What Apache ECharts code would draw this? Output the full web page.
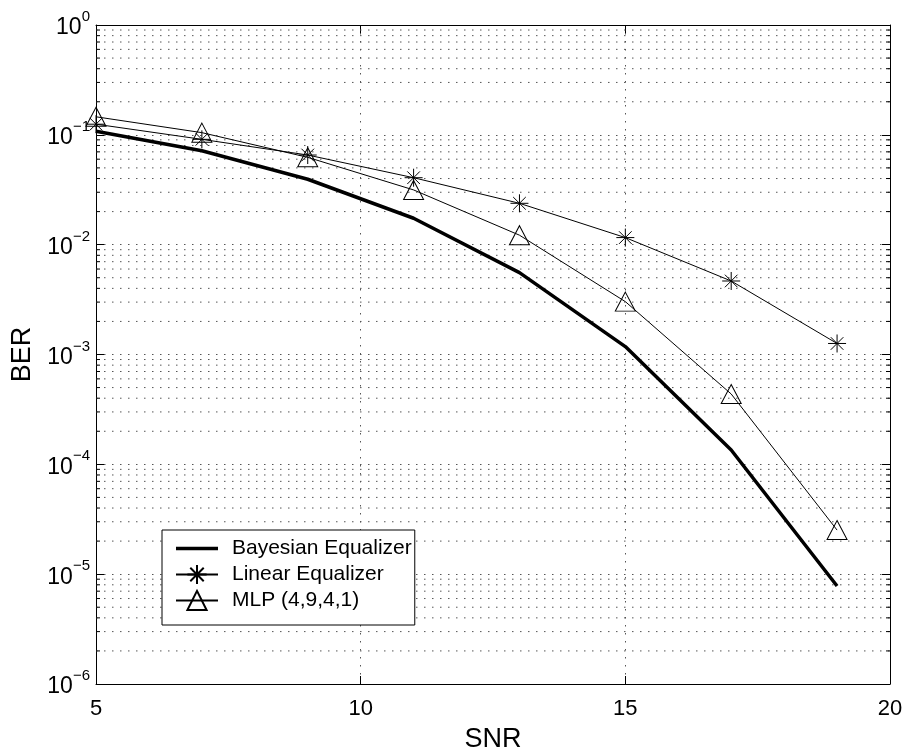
<!DOCTYPE html>
<html>
<head>
<meta charset="utf-8">
<script src="https://cdn.jsdelivr.net/npm/echarts@6/dist/echarts.min.js"></script>
<style>
html,body{margin:0;padding:0;background:#fff;}
#chart{width:909px;height:747px;}
</style>
</head>
<body>
<div id="chart"></div>
<script>
// ---- data ----
const snr = [5, 7, 9, 11, 13, 15, 17, 19];
const bayesian = [0.108, 0.0717, 0.0394, 0.0174, 0.00556, 0.00118, 0.000135, 0.0000078];
const linear = [0.125, 0.091, 0.0655, 0.0407, 0.0238, 0.0116, 0.00467, 0.00126];
const mlp = [0.146, 0.1047, 0.0624, 0.0315, 0.0122, 0.00303, 0.000437, 0.0000252];
const seriesNames = ['Bayesian Equalizer', 'Linear Equalizer', 'MLP (4,9,4,1)'];
const xTicks = [5, 10, 15, 20];
const mantissas = [2, 3, 4, 5, 6, 7, 8, 9];

const FONT = '"Liberation Sans", Arial, Helvetica, sans-serif';
const minorVals = [];
for (let e = -6; e < 0; e++) {
  for (const m of mantissas) minorVals.push([xTicks[0], m * Math.pow(10, e)]);
}
const pair = (xs, ys) => xs.map((x, i) => [x, ys[i]]);

const starPath = 'path://M10,0 L10,20 M0,10 L20,10 M3,3 L17,17 M3,17 L17,3';
const dotted = [1.5, 6.5];
const gridColor = '#555';

const chart = echarts.init(document.getElementById('chart'), null, {renderer: 'canvas'});
const option = {
  backgroundColor: '#fff',
  animation: false,
  grid: {left: 96, right: 19, top: 25, bottom: 63, containLabel: false, outerBoundsMode: 'none'},
  xAxis: [{
    type: 'value', min: 5, max: 20, interval: 5,
    name: 'SNR', nameLocation: 'middle', nameGap: 42,
    nameTextStyle: {fontFamily: FONT, fontSize: 27, color: '#000'},
    axisLine: {show: true, lineStyle: {color: '#000', width: 1}},
    axisTick: {show: true, inside: true, length: 8, lineStyle: {color: '#000'}},
    axisLabel: {fontFamily: FONT, fontSize: 22, color: '#000', margin: 14},
    splitLine: {show: true, lineStyle: {color: gridColor, type: dotted, width: 1}}
  }, {
    type: 'value', min: 5, max: 20, interval: 5, position: 'top',
    axisLine: {show: true, onZero: false, lineStyle: {color: '#000', width: 1}},
    axisTick: {show: true, inside: true, length: 8, lineStyle: {color: '#000'}},
    axisLabel: {show: false}, splitLine: {show: false}
  }],
  yAxis: [{
    type: 'log', logBase: 10, min: 1e-6, max: 1,
    name: 'BER', nameLocation: 'middle', nameGap: 51,
    nameTextStyle: {fontFamily: FONT, fontSize: 27, color: '#000'},
    axisLine: {show: true, lineStyle: {color: '#000', width: 1}},
    axisTick: {show: true, inside: true, length: 8, lineStyle: {color: '#000'}},
    splitLine: {show: true, lineStyle: {color: gridColor, type: dotted, width: 1}},
    axisLabel: {
      margin: 6,
      formatter: function (v) {
        const e = Math.round(Math.log10(v));
        return '{b|10}{e|' + (e === 0 ? '0' : '\u2212' + (-e)) + '}';
      },
      rich: {
        b: {fontFamily: FONT, fontSize: 23, color: '#000', padding: [6, 0, 0, 0]},
        e: {fontFamily: FONT, fontSize: 15, color: '#000', padding: [0, 0, 16, 0]}
      }
    }
  }, {
    type: 'log', logBase: 10, min: 1e-6, max: 1, position: 'right',
    axisLine: {show: true, onZero: false, lineStyle: {color: '#000', width: 1}},
    axisTick: {show: true, inside: true, length: 8, lineStyle: {color: '#000'}},
    axisLabel: {show: false}, splitLine: {show: false}
  }],
  legend: {
    data: [
      {name: seriesNames[0], icon: 'path://M0,0 L42,0 L42,3.5 L0,3.5 Z', itemStyle: {color: '#000', borderWidth: 0}},
      {name: seriesNames[1]},
      {name: seriesNames[2]}
    ],
    orient: 'vertical', left: 162, top: 530,
    backgroundColor: '#fff', borderColor: '#000', borderWidth: 1,
    padding: [6, 3, 12, 13], itemGap: 1,
    itemWidth: 42, itemHeight: 24,
    textStyle: {fontFamily: FONT, fontSize: 21, color: '#000', lineHeight: 25, padding: [0, 0, 0, 9]}
  },
  series: [{
    type: 'custom', name: 'minorGrid', silent: true, z: 1,
    xAxisIndex: 0, yAxisIndex: 0,
    data: minorVals,
    renderItem: function (params, api) {
      const v = api.value(1);
      const p0 = api.coord([5, v]);
      const p1 = api.coord([20, v]);
      return {
        type: 'group',
        children: [
          {type: 'line', shape: {x1: p0[0], y1: p0[1], x2: p1[0], y2: p1[1]},
           style: {stroke: gridColor, lineWidth: 1, lineDash: dotted}},
          {type: 'line', shape: {x1: p0[0], y1: p0[1], x2: p0[0] + 4, y2: p0[1]},
           style: {stroke: '#000', lineWidth: 1}},
          {type: 'line', shape: {x1: p1[0] - 4, y1: p1[1], x2: p1[0], y2: p1[1]},
           style: {stroke: '#000', lineWidth: 1}}
        ]
      };
    }
  }, {
    name: seriesNames[0], type: 'line', z: 3,
    data: pair(snr, bayesian), symbol: 'none',
    lineStyle: {color: '#000', width: 3.5},
    itemStyle: {color: '#000'}
  }, {
    name: seriesNames[1], type: 'line', z: 4,
    data: pair(snr, linear), symbol: starPath, symbolSize: 18,
    lineStyle: {color: '#000', width: 1},
    itemStyle: {color: 'transparent', borderColor: '#000', borderWidth: 1}
  }, {
    name: seriesNames[2], type: 'line', z: 5,
    data: pair(snr, mlp), symbol: 'triangle', symbolSize: [20, 19],
    lineStyle: {color: '#000', width: 1},
    itemStyle: {color: 'transparent', borderColor: '#000', borderWidth: 1}
  }]
};
chart.setOption(option);
</script>
</body>
</html>
